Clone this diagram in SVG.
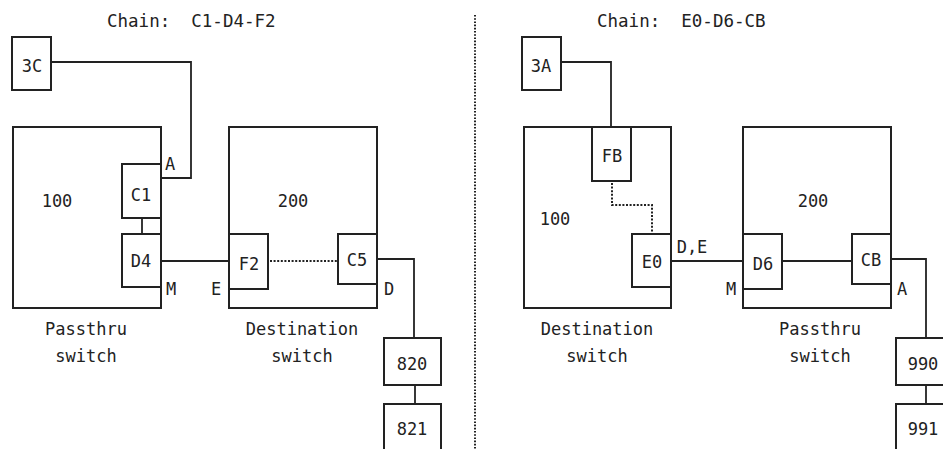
<svg xmlns="http://www.w3.org/2000/svg" width="943" height="449" viewBox="0 0 943 449">
<style>
  rect { fill: #fff; stroke: #222; stroke-width: 2; }
  text { font-family: "DejaVu Sans Mono", "Liberation Mono", monospace; font-size: 17px; fill: #222; }
  .c { text-anchor: middle; }
  .t { font-size: 17.5px; white-space: pre; }
  .ln { fill: none; stroke: #222; stroke-width: 1.8; }
  .dot { fill: none; stroke: #222; stroke-width: 2; stroke-dasharray: 2 1.6; }
</style>
<rect x="0" y="0" width="943" height="449" style="stroke:none;fill:#fff"/>

<g id="titles">
  <text class="t" x="107" y="27" xml:space="preserve">Chain:  C1-D4-F2</text>
  <text class="t" x="597" y="27" xml:space="preserve">Chain:  E0-D6-CB</text>
</g>

<g id="separator">
  <line x1="475" y1="15" x2="475" y2="449" style="stroke:#222;stroke-width:2;stroke-dasharray:1.6 1.6"/>
</g>

<!-- Left half -->
<g id="L-sw100">
  <rect x="13" y="127" width="148" height="181"/>
  <text class="c" x="57" y="207">100</text>
  <text class="c" x="86" y="335">Passthru</text>
  <text class="c" x="86" y="362">switch</text>
</g>
<g id="L-sw200">
  <rect x="229" y="127" width="148" height="181"/>
  <text class="c" x="293" y="207">200</text>
  <text class="c" x="302" y="335">Destination</text>
  <text class="c" x="302" y="362">switch</text>
</g>
<g id="L-3C">
  <rect x="12" y="37" width="39" height="53"/>
  <text class="c" x="32" y="72">3C</text>
</g>
<g id="L-C1">
  <rect x="122" y="164" width="39" height="54"/>
  <text class="c" x="141" y="201">C1</text>
  <text class="c" x="170" y="170">A</text>
</g>
<g id="L-D4">
  <rect x="122" y="234" width="39" height="53"/>
  <text class="c" x="141" y="267">D4</text>
  <text class="c" x="171" y="295">M</text>
</g>
<g id="L-F2">
  <rect x="229" y="234" width="39" height="55"/>
  <text class="c" x="249" y="270">F2</text>
  <text class="c" x="216" y="295">E</text>
</g>
<g id="L-C5">
  <rect x="338" y="234" width="39" height="50"/>
  <text class="c" x="357" y="266">C5</text>
  <text class="c" x="389" y="295">D</text>
</g>
<g id="L-820">
  <rect x="384" y="338" width="57" height="47"/>
  <text class="c" x="412" y="370">820</text>
</g>
<g id="L-821">
  <rect x="384" y="404" width="57" height="70"/>
  <text class="c" x="412" y="435">821</text>
</g>

<!-- Right half -->
<g id="R-sw100">
  <rect x="524" y="127" width="147" height="181"/>
  <text class="c" x="555" y="225">100</text>
  <text class="c" x="597" y="335">Destination</text>
  <text class="c" x="597" y="362">switch</text>
</g>
<g id="R-sw200">
  <rect x="743" y="127" width="148" height="181"/>
  <text class="c" x="813" y="207">200</text>
  <text class="c" x="820" y="335">Passthru</text>
  <text class="c" x="820" y="362">switch</text>
</g>
<g id="R-3A">
  <rect x="522" y="37" width="39" height="53"/>
  <text class="c" x="541" y="72">3A</text>
</g>
<g id="R-FB">
  <rect x="592" y="127" width="39" height="54"/>
  <text class="c" x="612" y="162">FB</text>
</g>
<g id="R-E0">
  <rect x="632" y="234" width="39" height="53"/>
  <text class="c" x="652" y="268">E0</text>
  <text class="c" x="692" y="253">D,E</text>
</g>
<g id="R-D6">
  <rect x="743" y="234" width="39" height="55"/>
  <text class="c" x="763" y="270">D6</text>
  <text class="c" x="731" y="295">M</text>
</g>
<g id="R-CB">
  <rect x="852" y="234" width="39" height="50"/>
  <text class="c" x="871" y="266">CB</text>
  <text class="c" x="902" y="295">A</text>
</g>
<g id="R-990">
  <rect x="896" y="338" width="57" height="47"/>
  <text class="c" x="923" y="370">990</text>
</g>
<g id="R-991">
  <rect x="896" y="404" width="57" height="70"/>
  <text class="c" x="923" y="435">991</text>
</g>

<g id="connectors">
  <!-- left -->
  <polyline class="ln" points="51,62 191,62 191,178 162,178"/>
  <line class="ln" x1="142" y1="219" x2="142" y2="233"/>
  <line class="ln" x1="162" y1="261" x2="228" y2="261"/>
  <line class="dot" x1="270" y1="261" x2="337" y2="261"/>
  <polyline class="ln" points="378,259 414,259 414,337"/>
  <line class="ln" x1="415" y1="386" x2="415" y2="403"/>
  <!-- right -->
  <polyline class="ln" points="562,62 611,62 611,126"/>
  <polyline class="dot" points="612,183 612,205 652,205 652,233"/>
  <line class="ln" x1="672" y1="261" x2="742" y2="261"/>
  <line class="ln" x1="783" y1="261" x2="851" y2="261"/>
  <polyline class="ln" points="892,259 926,259 926,337"/>
  <line class="ln" x1="926" y1="386" x2="926" y2="403"/>
</g>
</svg>
